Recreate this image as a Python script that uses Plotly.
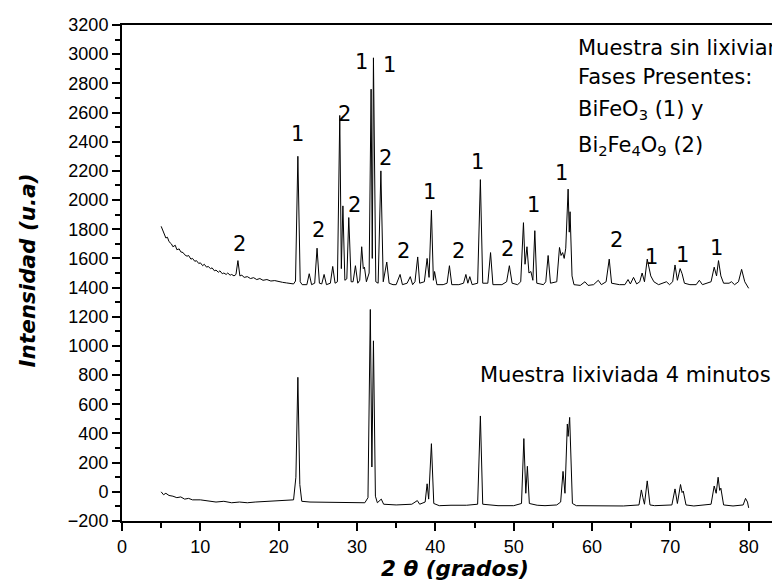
import plotly.graph_objects as go

# ---- Upper pattern: "Muestra sin lixiviar" (2theta, intensity) ----
upper_x = [5.0, 5.2, 5.4, 5.6, 5.8, 6.0, 6.3, 6.5, 6.8, 7.0, 7.3, 7.5, 7.8, 8.0, 8.3, 8.5, 8.8, 9.0,
           9.3, 9.5, 9.8, 10.0, 10.3, 10.5, 10.8, 11.0, 11.3, 11.5, 11.8, 12.0, 12.3, 12.5, 12.8, 13.0,
           13.3, 13.5, 13.8, 14.0, 14.3, 14.55, 14.8, 15.05, 15.3, 15.6, 16.0, 16.4, 16.8, 17.2, 17.6,
           18.0, 18.5, 19.0, 19.5, 20.0, 20.5, 21.0, 21.5, 21.9, 22.15, 22.45, 22.75, 23.0, 23.6, 23.9,
           24.2, 24.6, 24.9, 25.2, 25.5, 25.8, 26.1, 26.6, 26.9, 27.2, 27.5, 27.8, 28.0, 28.2, 28.45,
           28.7, 28.95, 29.25, 29.5, 29.8, 30.1, 30.35, 30.6, 30.8, 30.95, 31.2, 31.55, 31.8, 31.95,
           32.1, 32.4, 32.7, 33.05, 33.35, 33.8, 34.1, 34.6, 35.0, 35.5, 35.8, 36.4, 36.8, 37.1, 37.4,
           37.75, 38.0, 38.6, 38.95, 39.2, 39.5, 39.75, 39.9, 40.2, 41.0, 41.5, 41.8, 42.1, 43.0, 43.6,
           43.9, 44.15, 44.4, 44.7, 45.4, 45.75, 46.05, 46.7, 47.05, 47.35, 48.5, 49.1, 49.45, 49.8,
           50.5, 50.9, 51.25, 51.45, 51.7, 51.95, 52.2, 52.45, 52.7, 52.95, 53.8, 54.1, 54.4, 54.7,
           55.5, 55.85, 56.05, 56.25, 56.45, 56.65, 56.95, 57.1, 57.2, 57.45, 57.7, 58.5, 59.1, 59.5,
           60.2, 60.8, 61.2, 61.8, 62.2, 62.5, 63.5, 64.2, 64.6, 64.9, 65.3, 65.7, 66.1, 66.4, 66.7,
           67.05, 67.25, 67.5, 67.9, 68.5, 69.5, 69.9, 70.3, 70.6, 70.9, 71.25, 71.5, 71.8, 72.5, 73.3,
           73.7, 74.1, 75.2, 75.6, 75.9, 76.15, 76.45, 76.8, 77.5, 77.8, 78.2, 78.7, 79.1, 79.5, 80.0]
upper_y = [1820, 1790, 1765, 1740, 1745, 1715, 1700, 1680, 1690, 1660, 1665, 1645, 1640, 1625, 1615,
           1620, 1595, 1600, 1580, 1585, 1565, 1570, 1550, 1560, 1540, 1545, 1530, 1535, 1515, 1520,
           1505, 1515, 1495, 1500, 1490, 1500, 1485, 1490, 1480, 1490, 1585, 1480, 1485, 1470, 1475,
           1462, 1468, 1455, 1462, 1450, 1455, 1445, 1448, 1440, 1436, 1432, 1428, 1425, 1445, 2300,
           1440, 1420, 1420, 1495, 1420, 1430, 1670, 1430, 1425, 1490, 1420, 1430, 1545, 1430, 1440,
           2580, 1530, 1960, 1450, 1460, 1880, 1440, 1440, 1550, 1430, 1450, 1680, 1530, 1540, 1440,
           1500, 2760, 1600, 2975, 1440, 1430, 2200, 1440, 1575, 1430, 1420, 1420, 1490, 1420, 1430,
           1475, 1420, 1440, 1610, 1430, 1440, 1600, 1470, 1930, 1450, 1510, 1420, 1420, 1430, 1550,
           1420, 1420, 1430, 1490, 1430, 1475, 1420, 1430, 2140, 1430, 1430, 1640, 1420, 1420, 1440,
           1550, 1430, 1420, 1440, 1845, 1560, 1680, 1500, 1510, 1450, 1790, 1430, 1420, 1440, 1620,
           1430, 1440, 1675, 1620, 1640, 1600, 1670, 2075, 1780, 1920, 1480, 1420, 1415, 1440, 1415,
           1420, 1450, 1420, 1440, 1595, 1430, 1420, 1420, 1455, 1425, 1470, 1425, 1440, 1500, 1440,
           1595, 1540, 1480, 1440, 1420, 1440, 1420, 1440, 1555, 1450, 1530, 1495, 1430, 1420, 1420,
           1450, 1420, 1440, 1540, 1480, 1585, 1480, 1430, 1430, 1440, 1420, 1440, 1525, 1440, 1395]

# ---- Lower pattern: "Muestra lixiviada 4 minutos" ----
lower_x = [5.0, 5.3, 5.6, 6.0, 6.5, 7.0, 7.5, 8.0, 8.5, 9.0, 10.0, 11.0, 12.0, 13.0, 14.0, 15.0, 16.0,
           17.0, 18.0, 19.0, 20.0, 21.0, 21.9, 22.2, 22.45, 22.7, 22.95, 24.0, 25.0, 26.0, 27.0, 28.0,
           29.0, 30.0, 31.0, 31.4, 31.7, 31.9, 32.1, 32.35, 32.6, 33.1, 33.4, 35.0, 37.0, 37.7, 38.0,
           38.7, 38.95, 39.15, 39.5, 39.8, 40.5, 42.0, 44.0, 45.4, 45.75, 46.05, 48.0, 50.0, 51.0, 51.3,
           51.55, 51.75, 52.0, 53.0, 54.0, 55.5, 56.0, 56.3, 56.55, 56.85, 56.95, 57.15, 57.5, 58.0,
           60.0, 62.0, 64.0, 66.0, 66.3, 66.5, 66.7, 67.05, 67.4, 68.0, 70.2, 70.6, 70.9, 71.3, 71.5,
           71.65, 72.0, 73.0, 75.2, 75.6, 75.85, 76.1, 76.3, 76.45, 76.8, 78.0, 79.3, 79.6, 79.85, 80.0]
lower_y = [0, -20, -10, -25, -30, -40, -35, -50, -45, -55, -55, -65, -70, -65, -75, -70, -75, -70,
           -68, -65, -62, -60, -55, 100, 785, 50, -65, -70, -70, -75, -70, -72, -75, -75, -75, -40,
           1250, 170, 1035, -30, -75, -50, -85, -90, -85, -60, -85, -70, 55, -50, 330, -80, -95, -92,
           -92, -85, 520, -85, -95, -95, -80, 365, -10, 175, -80, -92, -95, -90, -70, 140, -10, 465,
           380, 510, -80, -95, -97, -97, -97, -90, 13, -40, -85, 75, -90, -95, -90, 20, -80, 50, -5,
           5, -90, -97, -85, 40, -10, 100, 10, 25, -90, -97, -90, -45, -70, -110]

# ---- Peak phase labels (1 = BiFeO3, 2 = Bi2Fe4O9) ----
label_x = [15.0, 22.4, 25.1, 28.4, 29.7, 30.6, 34.1, 33.6, 35.9, 39.3, 42.9, 45.4, 49.2, 52.5,
           56.1, 63.1, 67.6, 71.6, 75.9]
label_y = [1697, 2451, 1795, 2590, 1966, 2948, 2926, 2290, 1650, 2058, 1650, 2259, 1663, 1966,
           2184, 1726, 1612, 1624, 1669]
label_text = ["2", "1", "2", "2", "2", "1", "1", "2", "2", "1", "2", "1", "2", "1",
              "1", "2", "1", "1", "1"]

x_ticks = [0, 10, 20, 30, 40, 50, 60, 70, 80]
y_ticks = list(range(-200, 3201, 200))

fig = go.Figure()
fig.add_trace(go.Scatter(x=upper_x, y=upper_y, mode="lines",
                         line=dict(color="black", width=1), showlegend=False))
fig.add_trace(go.Scatter(x=lower_x, y=lower_y, mode="lines",
                         line=dict(color="black", width=1), showlegend=False))

ann_font = dict(family="DejaVu Sans", size=21, color="black")
for lx, ly, lt in zip(label_x, label_y, label_text):
    fig.add_annotation(x=lx, y=ly, text=lt, showarrow=False, font=ann_font,
                       xanchor="center", yanchor="middle")

legend_lines = ["Muestra sin lixiviar", "Fases Presentes:",
                "BiFeO<sub>3</sub> (1) y", "Bi<sub>2</sub>Fe<sub>4</sub>O<sub>9</sub> (2)"]
legend_y = [3044, 2846, 2617, 2371]
for t, yy in zip(legend_lines, legend_y):
    fig.add_annotation(x=57.9, y=yy, text=t, showarrow=False, font=ann_font,
                       xanchor="left", yanchor="middle")

fig.add_annotation(x=45.5, y=801, text="Muestra lixiviada 4 minutos", showarrow=False,
                   font=ann_font, xanchor="left", yanchor="middle")

title_font = dict(family="DejaVu Sans", size=21.5, color="black", weight="bold", style="italic")
fig.add_annotation(xref="paper", yref="paper", x=0.506, y=-0.095, text="2 θ (grados)",
                   showarrow=False, font=title_font, xanchor="center", yanchor="middle")
fig.add_annotation(xref="paper", yref="paper", x=-0.143, y=0.505, text="Intensidad (u.a)",
                   textangle=-90, showarrow=False, font=title_font,
                   xanchor="center", yanchor="middle")

axis_common = dict(showgrid=False, zeroline=False, showline=True, linecolor="black",
                   linewidth=2, ticks="outside", tickcolor="black", tickwidth=1.5,
                   ticklen=8, tickfont=dict(family="Liberation Sans", size=18, color="black"))
fig.update_xaxes(range=[0, 84], tickvals=x_ticks, mirror=True,
                 minor=dict(dtick=5, tick0=0, ticks="outside", ticklen=5, tickcolor="black",
                            tickwidth=1.5),
                 **axis_common)
fig.update_yaxes(range=[-200, 3200], tickvals=y_ticks, ticksuffix="  ",
                 minor=dict(dtick=100, tick0=0, ticks="outside", ticklen=5, tickcolor="black",
                            tickwidth=1.5),
                 **axis_common)

# page body adds an 8px offset; margins compensate so the plot lands where the reference has it
fig.update_layout(width=780, height=583, margin=dict(l=114, r=8, t=17, b=70),
                  plot_bgcolor="white", paper_bgcolor="white")

fig.write_html("out.html")
